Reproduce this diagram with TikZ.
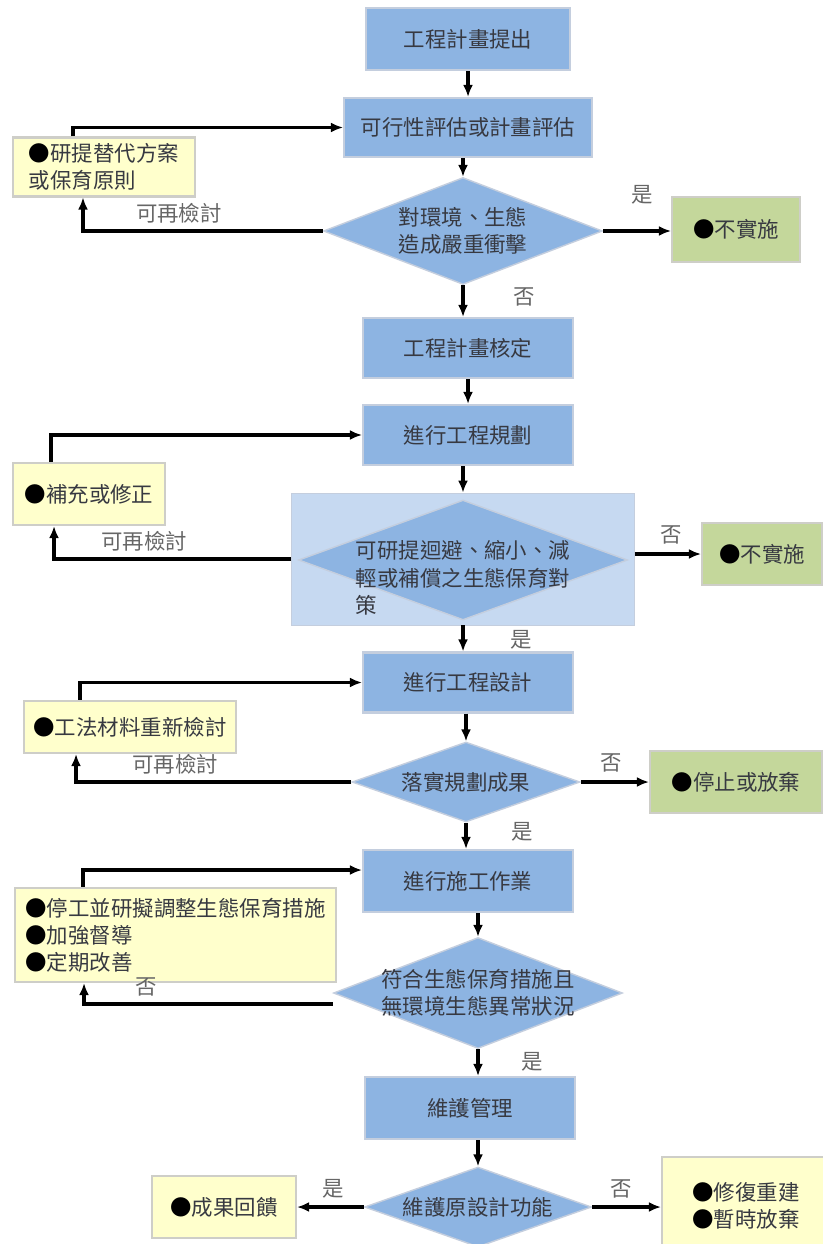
\documentclass[tikz,border=0pt]{standalone}
\usepackage{fontspec}
\setmainfont{Noto Sans CJK TC}
\usetikzlibrary{shapes.geometric,arrows.meta}

\definecolor{stepblue}{RGB}{141,180,226}
\definecolor{stepedge}{RGB}{196,206,222}
\definecolor{zoneblue}{RGB}{198,217,241}
\definecolor{noteyellow}{RGB}{255,255,204}
\definecolor{noteedge}{RGB}{206,206,200}
\definecolor{stopgreen}{RGB}{196,215,155}
\definecolor{inkgray}{RGB}{55,57,65}

\newcommand{\blackdot}{\textcolor{black}{●}}

\begin{document}
\begin{tikzpicture}[x=0.02cm, y=-0.02cm,
        font=\fontsize{12.2pt}{15.5pt}\selectfont, text=inkgray,
        >={Latex[length=0.24cm,width=0.2cm]},
        stage/.style={draw=stepedge, line width=1.2pt, fill=stepblue, minimum width=4.2cm, minimum height=1.2cm},
        decide/.style={diamond, draw=stepedge, line width=0.8pt, fill=stepblue, inner sep=0pt},
        note/.style={draw=noteedge, line width=1.2pt, fill=noteyellow, align=left},
        halt/.style={draw=noteedge, line width=1.2pt, fill=stopgreen},
        flow/.style={->, line width=2pt},
        tag/.style={text=black!60}]

            \path[use as bounding box, fill=white] (0, 0) rectangle (822, 1244);

            \node[stage, minimum width=4.08cm, minimum height=1.24cm] (propose) at (468, 39) {工程計畫提出};
            \node[stage, minimum width=4.96cm, minimum height=1.18cm] (assess) at (468, 127.5) {可行性評估或計畫評估};
            \node[decide, minimum width=5.58cm, minimum height=2.14cm] (impact) at (463, 231) {};
            \node[align=center] (impacttxt) at (impact) {對環境、生態\\造成嚴重衝擊};
            \node[halt, minimum width=2.56cm, minimum height=1.3cm] (reject1) at (736, 229.5) {\blackdot 不實施};
            \node[note, minimum width=3.64cm, minimum height=1.16cm] (alt) at (104, 167) {\blackdot 研提替代方案\\或保育原則};

            \node[stage] (approve) at (468, 348) {工程計畫核定};
            \node[stage] (plan) at (468, 435) {進行工程規劃};
            \node[draw=stepedge, fill=zoneblue, minimum width=6.86cm, minimum height=2.64cm] (zone) at (463, 559) {};
            \node[decide, minimum width=6.58cm, minimum height=2.4cm] (mitigate) at (463, 560) {};
            \node[align=left] (mitigatetxt) at (463, 578) {可研提迴避、縮小、減\\輕或補償之生態保育對\\策};
            \node[halt, minimum width=2.4cm, minimum height=1.24cm] (reject2) at (762, 554) {\blackdot 不實施};
            \node[note, minimum width=3.04cm, minimum height=1.24cm] (amend) at (89, 494) {\blackdot 補充或修正};

            \node[stage] (design) at (468, 682.5) {進行工程設計};
            \node[decide, minimum width=4.56cm, minimum height=1.6cm] (follow) at (466, 782) {};
            \node (followtxt) at (follow) {落實規劃成果};
            \node[halt, minimum width=3.44cm, minimum height=1.24cm] (abandon) at (736, 782) {\blackdot 停止或放棄};
            \node[note, minimum width=4.24cm, minimum height=1.04cm] (method) at (130, 727) {\blackdot 工法材料重新檢討};

            \node[stage, minimum height=1.24cm] (build) at (468, 881) {進行施工作業};
            \node[decide, minimum width=5.78cm, minimum height=2.22cm] (comply) at (478, 993) {};
            \node[align=center] (complytxt) at (comply) {符合生態保育措施且\\無環境生態異常狀況};
            \node[note, minimum width=6.42cm, minimum height=1.88cm] (adjust) at (175.5, 935) {\blackdot 停工並研擬調整生態保育措施\\\blackdot 加強督導\\\blackdot 定期改善};

            \node[stage, minimum height=1.24cm] (maintain) at (470, 1108) {維護管理};
            \node[decide, minimum width=4.54cm, minimum height=1.6cm] (keep) at (478, 1207) {};
            \node (keeptxt) at (keep) {維護原設計功能};
            \node[note, minimum width=2.88cm, minimum height=1.24cm, align=center] (feedback) at (224, 1207) {\blackdot 成果回饋};
            \node[note, minimum width=3.36cm, minimum height=1.96cm, align=center] (repair) at (746, 1206) {\blackdot 修復重建\\\blackdot 暫時放棄};

            \draw[flow] (propose) -- (assess);
            \draw[flow] (assess.south -| impact.north) -- (impact.north);
            \draw[flow] (impact.south) -- (impact.south |- approve.north);
            \draw[flow] (impact.east) -- (impact.east -| reject1.west);
            \draw[flow] (impact.west) -| node[tag, above, pos=0.3] (again1) {可再檢討} ([xshift=-0.42cm]alt.south);
            \draw[flow] ([xshift=-0.62cm]alt.north) |- (assess.west);

            \draw[flow] (approve) -- (plan);
            \draw[flow] (plan.south -| zone.north) -- (zone.north);
            \draw[flow] (zone.south) -- (zone.south |- design.north);
            \draw[flow] (zone.east |- reject2) -- (reject2.west);
            \draw[flow] (zone.west) -| node[tag, above, pos=0.31] (again2) {可再檢討} ([xshift=-0.7cm]amend.south);
            \draw[flow] ([xshift=-0.76cm]amend.north) |- (plan.west);

            \draw[flow] (design.south -| follow.north) -- (follow.north);
            \draw[flow] (follow.south) -- (follow.south |- build.north);
            \draw[flow] (follow.east) -- (abandon.west);
            \draw[flow] (follow.west) -| node[tag, above, pos=0.32] (again3) {可再檢討} ([xshift=-1.08cm]method.south);
            \draw[flow] ([xshift=-1cm]method.north) |- (design.west);

            \draw[flow] (build.south -| comply.north) -- (comply.north);
            \draw[flow] (comply.south) -- (comply.south |- maintain.north);
            \draw[flow] ([yshift=-0.22cm]comply.west) -| node[tag, above, pos=0.375] (back) {否} ([xshift=-1.83cm]adjust.south);
            \draw[flow] ([xshift=-1.85cm]adjust.north) |- ([yshift=0.22cm]build.west);

            \draw[flow] (maintain.south -| keep.north) -- (keep.north);
            \draw[flow] (keep.west) -- (feedback.east);
            \draw[flow] (keep.east) -- (keep.east -| repair.west);

            \node[tag] (yes1) at (642, 195) {是};
            \node[tag] (no1) at (524, 297) {否};
            \node[tag] (no2) at (671, 535) {否};
            \node[tag] (yes2) at (521, 640) {是};
            \node[tag] (no3) at (611, 763) {否};
            \node[tag] (yes3) at (522, 832) {是};
            \node[tag] (yes4) at (532, 1062) {是};
            \node[tag] (yes5) at (333, 1189) {是};
            \node[tag] (no5) at (621, 1189) {否};
        \end{tikzpicture}
\end{document}
